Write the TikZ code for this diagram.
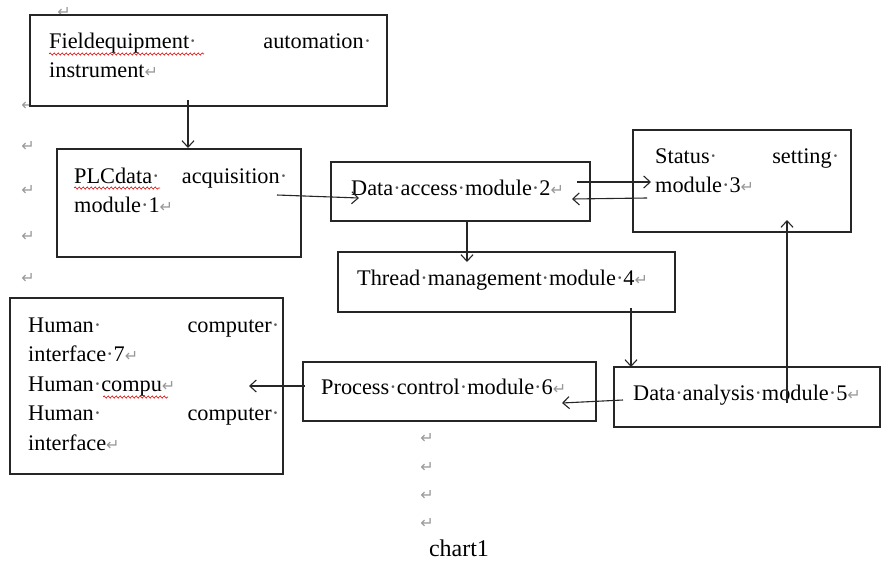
\documentclass[tikz,border=0pt]{standalone}
\usepackage{fontspec}
\setmainfont{Liberation Serif}
\newfontfamily\dvsans{DejaVu Sans}
\usetikzlibrary{arrows.meta,decorations.pathmorphing}
\newcommand\retm{{\dvsans\fontsize{16}{16}\selectfont\color{black!40}↵}}
\newcommand\md{{\color{black!65}·}}
\begin{document}
\begin{tikzpicture}[x=1pt,y=-1pt,
  box/.style={draw=black!85,line width=1.2pt,fill=white,inner sep=0pt,outer sep=0pt},
  txt/.style={anchor=base west,inner sep=0pt,font=\fontsize{22.3}{29.5}\selectfont},
  pmark/.style={inner sep=0pt},
  arr/.style={draw=black!85,line width=1.1pt,-{Straight Barb[length=6.5pt,width=12pt]}},
  squig/.style={draw=red!85!black,line width=0.6pt,decorate,decoration={snake,segment length=4pt,amplitude=1.1pt}}]
\useasboundingbox (0,0) rectangle (881,563);
% paragraph marks in the margin
\node[pmark] (m0) at (64,12) {\retm};
\node[pmark] (m1) at (28,105) {\retm};
\node[pmark] (m2) at (28,146) {\retm};
\node[pmark] (m3) at (28,190) {\retm};
\node[pmark] (m4) at (28,236) {\retm};
\node[pmark] (m5) at (28,278) {\retm};
\node[pmark] (m6) at (427,438) {\retm};
\node[pmark] (m7) at (427,467) {\retm};
\node[pmark] (m8) at (427,495) {\retm};
\node[pmark] (m9) at (427,523) {\retm};
% boxes
\node[box,minimum width=357pt,minimum height=91pt] (field) at (208.5,60.5) {};
\node[box,minimum width=244pt,minimum height=108pt] (plc) at (179,203) {};
\node[box,minimum width=259pt,minimum height=59pt] (access) at (460.5,191.5) {};
\node[box,minimum width=218pt,minimum height=102pt] (status) at (742,181) {};
\node[box,minimum width=337pt,minimum height=60pt] (thread) at (506.5,282) {};
\node[box,minimum width=273pt,minimum height=176pt] (human) at (146.5,386) {};
\node[box,minimum width=293pt,minimum height=59pt] (process) at (449.5,391.5) {};
\node[box,minimum width=266pt,minimum height=60pt] (analysis) at (747,397) {};
% texts
\node[txt] (fieldt) at (49,48) {\vtop{\hbox to 322pt{Fieldequipment\md\hfill automation\md}\hbox{instrument\retm}}};
\node[txt] (plct) at (74,183) {\vtop{\hbox to 213pt{PLCdata\md\hfill acquisition\md}\hbox{module\md 1\retm}}};
\node[txt] (accesst) at (351,195) {Data\md access\md module\md 2\retm};
\node[txt] (statust) at (655,163) {\vtop{\hbox to 184pt{Status\md\hfill setting\md}\hbox{module\md 3\retm}}};
\node[txt] (threadt) at (357,285) {Thread\md management\md module\md 4\retm};
\node[txt] (humant) at (28,332) {\vtop{\hbox to 251pt{Human\md\hfill computer\md}\hbox{interface\md 7\retm}\hbox{Human\md compu\retm}\hbox to 251pt{Human\md\hfill computer\md}\hbox{interface\retm}}};
\node[txt] (processt) at (321,394) {Process\md control\md module\md 6\retm};
\node[txt] (analysist) at (633,400) {Data\md analysis\md module\md 5\retm};
\node[anchor=base,inner sep=0pt,font=\fontsize{24}{28}\selectfont] (caption) at (459,556) {chart1};
% spelling squiggles
\draw[squig] (49,54) -- (204,54);
\draw[squig] (74,188) -- (160,188);
\draw[squig] (103,397) -- (168,397);
% connectors
\draw[arr] ([xshift=-20.5pt,yshift=6pt]field.south) -- ([xshift=9pt,yshift=1pt]plc.north);
\draw[arr] ([xshift=-24pt,yshift=8pt]plc.east) -- ([xshift=28pt,yshift=-6.5pt]access.west);
\draw[arr] ([xshift=-13pt,yshift=9.5pt]access.east) -- ([xshift=18pt,yshift=-1pt]status.west);
\draw[arr] ([xshift=14pt,yshift=-17pt]status.west) -- ([xshift=-18pt,yshift=-7.5pt]access.east);
\draw[arr] ([xshift=6.5pt]access.south) -- ([xshift=-39.5pt,yshift=-10pt]thread.north);
\draw[arr] ([xshift=124.5pt,yshift=4pt]thread.south) -- ([xshift=-116pt]analysis.north);
\draw[arr] ([xshift=40pt,yshift=-36pt]analysis.north) -- ([xshift=45pt,yshift=12pt]status.south);
\draw[arr] ([xshift=9pt,yshift=-3pt]analysis.west) -- ([xshift=-34pt,yshift=-11.5pt]process.east);
\draw[arr] ([xshift=2pt,yshift=5.5pt]process.west) -- ([xshift=-34pt]human.east);
\end{tikzpicture}
\end{document}
